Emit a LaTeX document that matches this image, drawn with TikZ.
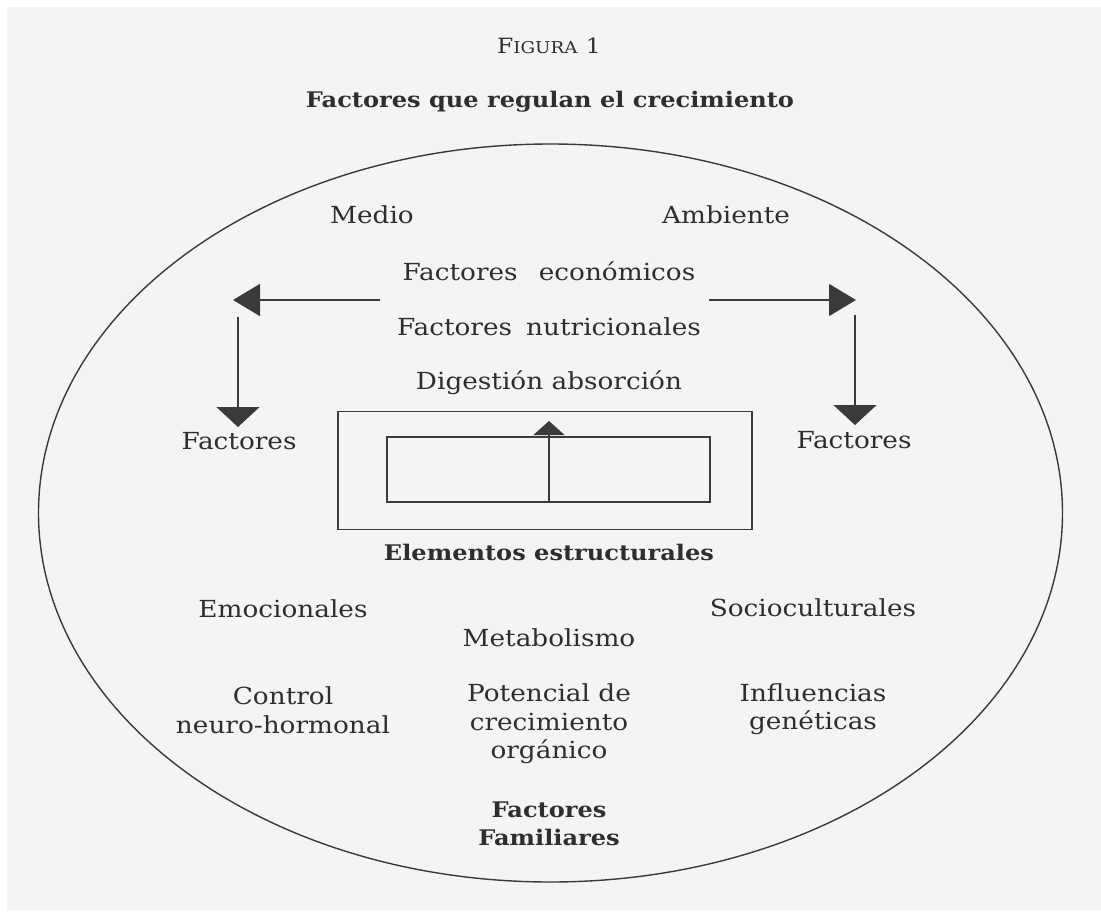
\documentclass[tikz,border=0pt]{standalone}
\usepackage{fontspec}
\setmainfont[FakeStretch=1.12]{DejaVu Serif}
\usetikzlibrary{arrows.meta}
\definecolor{paper}{HTML}{F4F4F4}
\definecolor{ink}{HTML}{2E2E2E}
\definecolor{rule}{HTML}{3A3A3A}
\tikzset{
  x=1pt, y=-1pt,
  lbl/.style={font=\fontsize{23.5}{28.5}\selectfont, text=ink, align=center, inner sep=0pt},
  blbl/.style={lbl, font=\fontsize{21.5}{28.5}\selectfont\bfseries},
  ln/.style={draw=rule, line width=1.4pt},
  arrside/.style={ln, -{Triangle[length=27pt,width=32pt]}},
  arrdown/.style={ln, -{Triangle[length=20pt,width=43pt]}},
  arrup/.style={ln, -{Triangle[length=14pt,width=31pt]}},
  box/.style={ln, rectangle, inner sep=0pt},
}
\begin{document}
\begin{tikzpicture}
  % page and paper
  \fill[white] (0,0) rectangle (1101,913);
  \fill[paper] (7,7) rectangle (1101,910);
  \useasboundingbox (0,0) rectangle (1101,913);

  % headings
  \node[lbl] (fig) at (549,46) {{\fontsize{21}{22}\selectfont F}{\fontsize{16.3}{22}\selectfont IGURA} {\fontsize{21}{22}\selectfont 1}};
  \node[blbl] (title) at (550,102) {Factores que regulan el crecimiento};

  % enclosing ellipse
  \draw[ln] (550.5,513) ellipse [x radius=512, y radius=369];

  % upper block
  \node[lbl] (medio) at (372,215) {Medio};
  \node[lbl] (ambiente) at (726,215) {Ambiente};
  \node[lbl] (econ) at (549,271) {Factores\hspace{0.9em}económicos};
  \node[lbl] (nutri) at (549,327) {Factores\hspace{0.6em}nutricionales};
  \node[lbl] (diges) at (549,383) {Digestión absorción};
  \node[lbl] (facL) at (239,441) {Factores};
  \node[lbl] (facR) at (854,440) {Factores};

  % side arrows
  \coordinate (lstart) at (380,300);
  \coordinate (lend) at (233,300);
  \coordinate (rstart) at (709,300);
  \coordinate (rend) at (856,300);
  \coordinate (ldown) at (238,317);
  \coordinate (ltip) at (238,427);
  \coordinate (rdown) at (855,315);
  \coordinate (rtip) at (855,425);
  \draw[arrside] (lstart) -- (lend);
  \draw[arrside] (rstart) -- (rend);
  \draw[arrdown] (ldown) -- (ltip);
  \draw[arrdown] (rdown) -- (rtip);

  % structural boxes
  \node[box, minimum width=414pt, minimum height=118pt] (outer) at (545,470.5) {};
  \node[box, minimum width=323pt, minimum height=65pt] (inner) at (548.5,469.5) {};
  \coordinate (uptip) at (549,421);
  \draw[arrup] (inner.south -| uptip) -- (uptip);
  \node[blbl] (elem) at (549,552) {Elementos estructurales};

  % lower block
  \node[lbl] (emoc) at (283,609) {Emocionales};
  \node[lbl] (socio) at (813,608) {Socioculturales};
  \node[lbl] (metab) at (549,638) {Metabolismo};
  \node[lbl] (control) at (283,710) {Control\\neuro-hormonal};
  \node[lbl] (poten) at (549,724) {Potencial de\\crecimiento\\orgánico};
  \node[lbl] (genet) at (813,709) {Influencias\\genéticas};
  \node[blbl] (famil) at (549,824) {Factores\\Familiares};
\end{tikzpicture}
\end{document}
